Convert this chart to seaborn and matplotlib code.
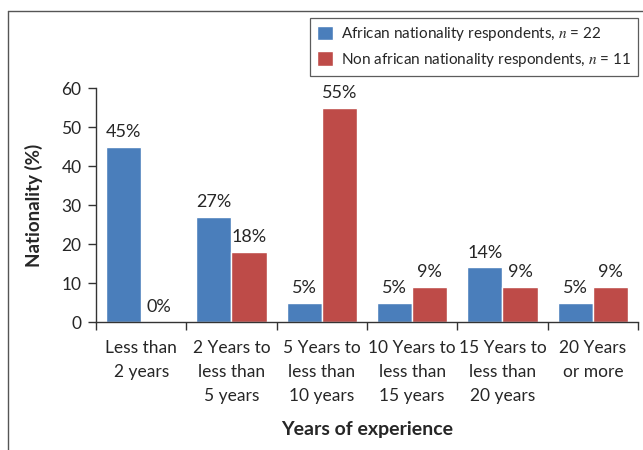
import matplotlib
matplotlib.use("Agg")
import matplotlib.pyplot as plt
from matplotlib.lines import Line2D
import seaborn as sns
import pandas as pd

categories = [
    "Less than\n2 years",
    "2 Years to\nless than\n5 years",
    "5 Years to\nless than\n10 years",
    "10 Years to\nless than\n15 years",
    "15 Years to\nless than\n20 years",
    "20 Years\nor more",
]
african = [45, 27, 5, 5, 14, 5]
non_african = [0, 18, 55, 9, 9, 9]
series_names = [
    "African nationality respondents, $n$ = 22",
    "Non african nationality respondents, $n$ = 11",
]
y_ticks = [0, 10, 20, 30, 40, 50, 60]

df = pd.DataFrame({
    "category": categories * 2,
    "value": african + non_african,
    "group": [series_names[0]] * len(categories) + [series_names[1]] * len(categories),
})

sns.set_style("white")
plt.rcParams["font.family"] = ["Lato", "DejaVu Sans"]
plt.rcParams["mathtext.fontset"] = "stix"
text_color = "#262626"

fig = plt.figure(figsize=(6.43, 4.5), dpi=100)
ax = fig.add_axes([0.1493, 0.2844, 0.8429, 0.5194])

palette = {series_names[0]: "#4A7EBB", series_names[1]: "#BE4B48"}
sns.barplot(data=df, x="category", y="value", hue="group", order=categories,
            hue_order=series_names, palette=palette, width=0.78, gap=0,
            saturation=1, ax=ax, legend=True)

# value labels above each bar
for container in ax.containers:
    ax.bar_label(container, labels=[f"{v:.0f}%" for v in container.datavalues],
                 padding=5, fontsize=13, color=text_color)

ax.set_xlim(-0.5, len(categories) - 0.5)
ax.set_ylim(0, 60)
ax.set_yticks(y_ticks)
ax.tick_params(axis="y", which="major", length=5.5, width=1, color="#333333",
               direction="out", pad=5, labelsize=12.5, labelcolor=text_color, left=True)
ax.tick_params(axis="x", which="major", length=0, pad=13, labelsize=12.5,
               labelcolor=text_color)
ax.set_xticks([i - 0.5 for i in range(len(categories) + 1)], minor=True)
ax.tick_params(axis="x", which="minor", length=6, width=1, color="#333333",
               direction="out", bottom=True)
for lbl in ax.get_xticklabels():
    lbl.set_linespacing(1.6)

for side in ("top", "right"):
    ax.spines[side].set_visible(False)
for side in ("left", "bottom"):
    ax.spines[side].set_color("#333333")
    ax.spines[side].set_linewidth(1)

ax.set_xlabel("Years of experience", fontsize=14, fontweight="bold", color=text_color)
ax.set_ylabel("Nationality (%)", fontsize=13.5, fontweight="bold", color=text_color)
ax.xaxis.set_label_coords(0.5, -0.425)
ax.yaxis.set_label_coords(-0.097, 0.5)

leg = ax.legend(loc="upper right", bbox_to_anchor=(1.0, 1.3), frameon=True,
                fancybox=False, shadow=False, fontsize=11, handlelength=1.05,
                handleheight=1.05, handletextpad=0.55, borderpad=0.45,
                labelspacing=0.5, borderaxespad=0)
leg.get_frame().set_edgecolor("#333333")
leg.get_frame().set_linewidth(0.9)
for t in leg.get_texts():
    t.set_color(text_color)

# frame lines along the top and left of the figure
fig.add_artist(Line2D([8.3 / 643, 1.0], [1 - 10.7 / 450] * 2, color="#555555", lw=1))
fig.add_artist(Line2D([8.3 / 643] * 2, [0, 1 - 10.7 / 450], color="#555555", lw=1))

fig.savefig("out.png", dpi=100)
